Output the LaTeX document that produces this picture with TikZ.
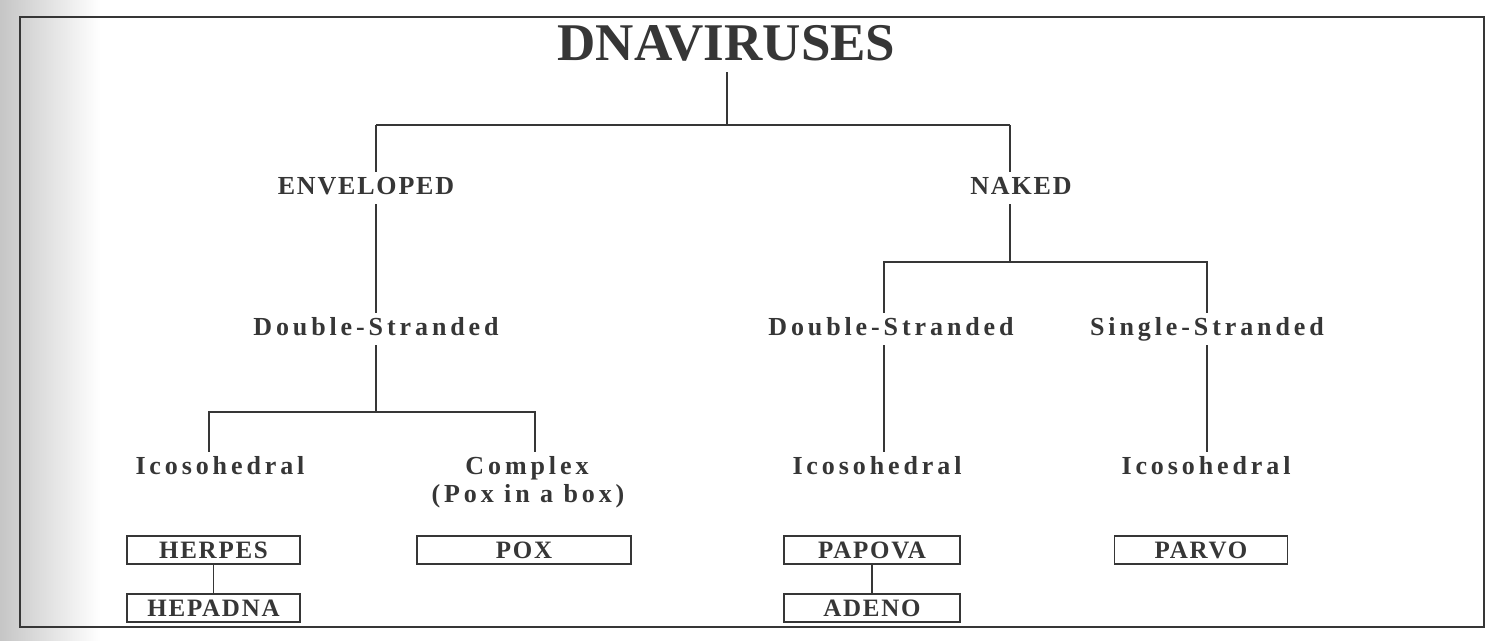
\documentclass[tikz,border=0pt]{standalone}
\usepackage{fontspec}
\setmainfont{Liberation Serif}
\newfontfamily\lowlbl[LetterSpace=15]{Liberation Serif}
\newfontfamily\caplbl[LetterSpace=7]{Liberation Serif}
\definecolor{ink}{HTML}{363636}
\tikzset{
  lbl/.style={font=\lowlbl\bfseries\fontsize{26}{30}\selectfont, text=ink,
    text height=18pt, text depth=6pt, inner xsep=2pt, inner ysep=4pt, anchor=base},
  capl/.style={lbl, font=\caplbl\bfseries\fontsize{26}{30}\selectfont},
  vbox/.style={draw=ink, line width=1.4pt, minimum width=173pt, minimum height=28pt,
    inner sep=0pt, font=\caplbl\bfseries\fontsize{25}{30}\selectfont, text=ink,
    text height=17pt, text depth=0pt},
  wire/.style={draw=ink, line width=2pt}
}
\begin{document}
\begin{tikzpicture}[x=1pt,y=-1pt]
\useasboundingbox (0,0) rectangle (1486,640);
\fill[white] (0,0) rectangle (1486,640);
\shade[left color=gray!45, right color=white] (0,0) rectangle (100,640);
\draw[draw=ink, line width=2pt] (20,17) rectangle (1484,627);

% title
\node[font=\bfseries\fontsize{53}{60}\selectfont, text=ink, anchor=base,
  text depth=0pt, inner ysep=12pt] (title) at (726.5,60) {DNAVIRUSES};

% level 1
\node[capl] (env) at (366,194) {ENVELOPED};
\node[capl] (nak) at (1021,194) {NAKED};

% level 2
\node[lbl] (ds1) at (376,335) {Double-Stranded};
\node[lbl] (ds2) at (891,335) {Double-Stranded};
\node[lbl] (ss) at (1207,335) {Single-Stranded};

% level 3
\node[lbl] (ico1) at (220,474) {Icosohedral};
\node[lbl] (cpx) at (527,474) {Complex};
\node[lbl] (poxnote) at (528,502) {(Pox in a box)};
\node[lbl] (ico2) at (877,474) {Icosohedral};
\node[lbl] (ico3) at (1206,474) {Icosohedral};

% boxes
\node[vbox] (herpes) at (213.5,550) {HERPES};
\node[vbox] (hepadna) at (213.5,608) {HEPADNA};
\node[vbox, minimum width=214pt] (pox) at (524,550) {POX};
\node[vbox, minimum width=176pt] (papova) at (872,550) {PAPOVA};
\node[vbox, minimum width=176pt] (adeno) at (872,608) {ADENO};
\node[vbox] (parvo) at (1201,550) {PARVO};

% junctions
\coordinate (jL) at (376,125);
\coordinate (jR) at (1010,125);
\coordinate (k1) at (376,412);
\coordinate (k1L) at (209,412);
\coordinate (k1R) at (535,412);
\coordinate (m0) at (1010,262);
\coordinate (m0L) at (884,262);
\coordinate (m0R) at (1207,262);

% connectors
\draw[wire] (title.south) -- (title.south |- jL);
\draw[wire] (jL) -- (jR);
\draw[wire] (jL) -- (jL |- env.north);
\draw[wire] (jR) -- (jR |- nak.north);
\draw[wire] (jL |- env.south) -- (jL |- ds1.north);
\draw[wire] (jL |- ds1.south) -- (k1);
\draw[wire] (k1L |- ico1.north) -- (k1L) -- (k1R) -- (k1R |- cpx.north);
\draw[wire] (jR |- nak.south) -- (m0);
\draw[wire] (m0L |- ds2.north) -- (m0L) -- (m0R) -- (m0R |- ss.north);
\draw[wire] (m0L |- ds2.south) -- (m0L |- ico2.north);
\draw[wire] (m0R |- ss.south) -- (m0R |- ico3.north);
\draw[draw=ink, line width=1.4pt] (herpes) -- (hepadna);
\draw[draw=ink, line width=1.4pt] (papova) -- (adeno);
\end{tikzpicture}
\end{document}
